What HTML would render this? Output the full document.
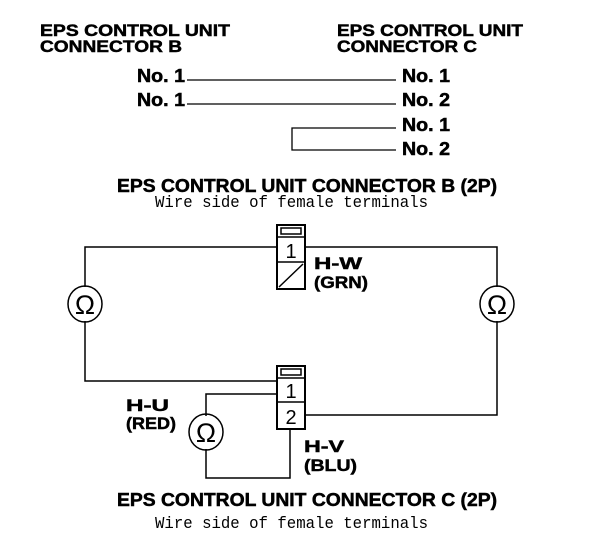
<!DOCTYPE html>
<html><head><meta charset="utf-8"><style>
html,body{margin:0;padding:0;background:#fff;}
svg{display:block;}
.b{font-family:"Liberation Sans",Arial,sans-serif;font-weight:bold;fill:#000;stroke:#000;stroke-width:0.5;}
.m{font-family:"Liberation Mono",monospace;fill:#000;}
.n{font-family:"Liberation Sans",Arial,sans-serif;fill:#000;}
</style></head><body>
<svg width="608" height="552" viewBox="0 0 608 552" xmlns="http://www.w3.org/2000/svg">
<g class="b" font-size="17">
<text x="40" y="36" textLength="190" lengthAdjust="spacingAndGlyphs">EPS CONTROL UNIT</text>
<text x="40" y="52" textLength="142" lengthAdjust="spacingAndGlyphs">CONNECTOR B</text>
<text x="337" y="36" textLength="186" lengthAdjust="spacingAndGlyphs">EPS CONTROL UNIT</text>
<text x="337" y="52" textLength="140" lengthAdjust="spacingAndGlyphs">CONNECTOR C</text>
</g>
<g class="b" font-size="18">
<text x="137" y="82" textLength="48" lengthAdjust="spacingAndGlyphs">No. 1</text>
<text x="137" y="106" textLength="48" lengthAdjust="spacingAndGlyphs">No. 1</text>
<text x="402" y="82" textLength="48" lengthAdjust="spacingAndGlyphs">No. 1</text>
<text x="402" y="106" textLength="48" lengthAdjust="spacingAndGlyphs">No. 2</text>
<text x="402" y="131" textLength="48" lengthAdjust="spacingAndGlyphs">No. 1</text>
<text x="402" y="155" textLength="48" lengthAdjust="spacingAndGlyphs">No. 2</text>
</g>
<g stroke="#000" stroke-width="1.3" fill="none">
<line x1="187" y1="80" x2="396" y2="80"/>
<line x1="187" y1="104" x2="396" y2="104"/>
<polyline points="396,128 292,128 292,150 396,150"/>
</g>
<text class="b" font-size="18" x="117" y="192" textLength="380" lengthAdjust="spacingAndGlyphs">EPS CONTROL UNIT CONNECTOR B (2P)</text>
<text class="m" font-size="17" x="155" y="207" textLength="273" lengthAdjust="spacingAndGlyphs">Wire side of female terminals</text>
<text class="b" font-size="18" x="117" y="506" textLength="380" lengthAdjust="spacingAndGlyphs">EPS CONTROL UNIT CONNECTOR C (2P)</text>
<text class="m" font-size="17" x="155" y="528" textLength="273" lengthAdjust="spacingAndGlyphs">Wire side of female terminals</text>
<g stroke="#000" stroke-width="1.5" fill="none">
<polyline points="277,247 85,247 85,287"/>
<polyline points="85,321 85,381 277,381"/>
<polyline points="305,247 497,247 497,287"/>
<polyline points="497,321 497,415 305,415"/>
<polyline points="277,394 206,394 206,416"/>
<polyline points="206,449 206,478 290,478 290,429"/>
<ellipse cx="85" cy="304" rx="17" ry="18"/>
<ellipse cx="497" cy="304" rx="17" ry="18"/>
<ellipse cx="206" cy="432" rx="17" ry="18"/>
<rect x="277" y="225" width="28" height="64" stroke-width="2"/>
<rect x="281" y="228" width="20" height="6"/>
<line x1="277" y1="237" x2="305" y2="237"/>
<line x1="277" y1="262" x2="305" y2="262"/>
<line x1="279" y1="287" x2="303" y2="264"/>
<rect x="277" y="366" width="28" height="63" stroke-width="2"/>
<rect x="281" y="369" width="20" height="6"/>
<line x1="277" y1="378" x2="305" y2="378"/>
<line x1="277" y1="402" x2="305" y2="402"/>
</g>
<g class="n" font-size="20" text-anchor="middle">
<text x="291" y="258">1</text>
<text x="291" y="398">1</text>
<text x="291" y="424">2</text>
</g>
<g class="n" font-size="27" text-anchor="middle">
<text x="85" y="314">Ω</text>
<text x="497" y="314">Ω</text>
<text x="206" y="442">Ω</text>
</g>
<g class="b" font-size="17">
<text x="314" y="269" textLength="48" lengthAdjust="spacingAndGlyphs">H-W</text>
<text x="314" y="288" textLength="54" lengthAdjust="spacingAndGlyphs">(GRN)</text>
<text x="126" y="411" textLength="43" lengthAdjust="spacingAndGlyphs">H-U</text>
<text x="126" y="429" textLength="50" lengthAdjust="spacingAndGlyphs">(RED)</text>
<text x="304" y="452" textLength="40" lengthAdjust="spacingAndGlyphs">H-V</text>
<text x="304" y="471" textLength="53" lengthAdjust="spacingAndGlyphs">(BLU)</text>
</g>
</svg>
</body></html>
